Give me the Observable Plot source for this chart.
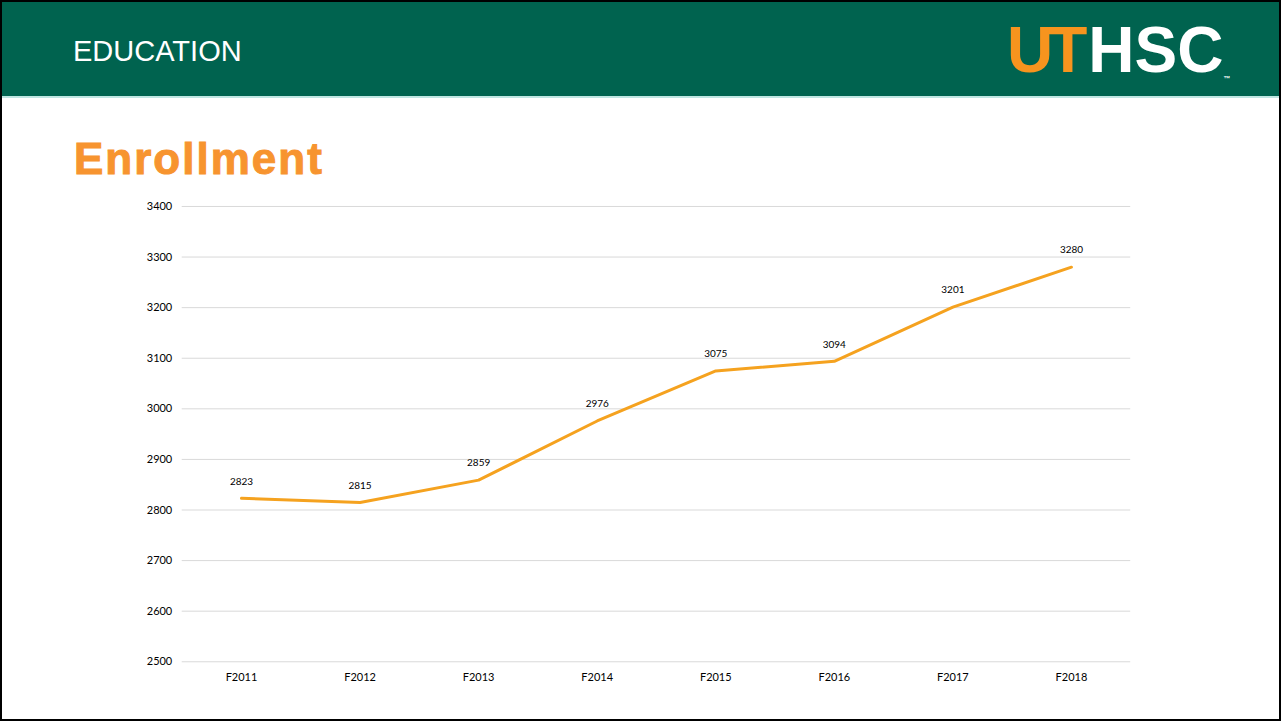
<!DOCTYPE html>
<html>
<head>
<meta charset="utf-8">
<script src="https://cdn.jsdelivr.net/npm/d3@7"></script>
<script src="https://cdn.jsdelivr.net/npm/@observablehq/plot@0.6"></script>
<style>
  html, body { margin: 0; padding: 0; background: #fff; }
  #page { position: relative; width: 1281px; height: 721px; box-sizing: border-box; border: 2px solid #000; overflow: hidden; background: #fff; }
  #header { position: absolute; left: 0; top: 0; width: 100%; height: 94px; background: #00634F; border-bottom: 2px solid #BFE6E2; }
  #section { position: absolute; left: 71px; top: 33px; font: 29px "Liberation Sans", Arial, sans-serif; color: #fff; }
  #logo { position: absolute; left: 1005px; top: 16px; font: bold 64px "Liberation Sans", Arial, sans-serif; line-height: 1; }
  #logo .ut { color: #F7941E; letter-spacing: -5px; margin-right: 6px; }
  #logo .hsc { color: #fff; }
  #logo .tm { color: #fff; font-size: 7px; vertical-align: bottom; }
  #title { position: absolute; left: 72px; top: 132px; font: bold 44px "Liberation Sans", Arial, sans-serif; color: #F7942F; letter-spacing: 2px; -webkit-text-stroke: 1px #F7942F; }
  #chart { position: absolute; left: -2px; top: 188px; }
</style>
</head>
<body>
<div id="page">
  <div id="header">
    <div id="section">EDUCATION</div>
    <div id="logo"><span class="ut">UT</span><span class="hsc">HSC</span><span class="tm">™</span></div>
  </div>
  <div id="title">Enrollment</div>
  <div id="chart"></div>
</div>
<script>
const terms = ["F2011", "F2012", "F2013", "F2014", "F2015", "F2016", "F2017", "F2018"];
const enrollment = [2823, 2815, 2859, 2976, 3075, 3094, 3201, 3280];
const yTicks = [2500, 2600, 2700, 2800, 2900, 3000, 3100, 3200, 3300, 3400];

const data = terms.map((t, i) => ({term: t, value: enrollment[i]}));

const chart = Plot.plot({
  width: 1281,
  height: 520,
  marginTop: 16,
  marginBottom: 48,
  marginLeft: 182,
  marginRight: 149,
  style: {fontFamily: "Lato, 'Open Sans', sans-serif", fontSize: "11px", color: "#000", background: "transparent"},
  x: {type: "point", domain: terms, padding: 0.5, round: false, label: null, tickSize: 0, tickPadding: 11},
  y: {domain: [2500, 3400], ticks: yTicks, label: null, tickSize: 0, tickPadding: 10, tickFormat: d => String(d)},
  marks: [
    Plot.gridY(yTicks, {stroke: "#d9d9d9", strokeOpacity: 1, strokeWidth: 1}),
    Plot.lineY(data, {x: "term", y: "value", stroke: "#F5A21F", strokeWidth: 3}),
    Plot.text(data, {x: "term", y: "value", text: d => String(d.value), dy: -17, fill: "#000", fontSize: 10})
  ]
});
document.getElementById("chart").appendChild(chart);
</script>
</body>
</html>
